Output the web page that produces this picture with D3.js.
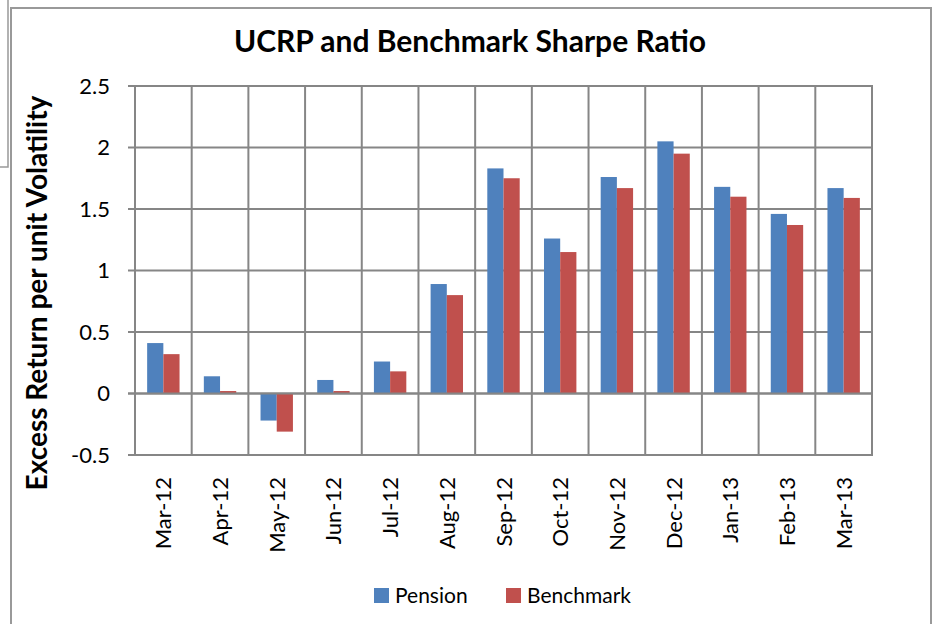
<!DOCTYPE html>
<html>
<head>
<meta charset="utf-8">
<script src="https://cdn.jsdelivr.net/npm/d3@7"></script>
<style>
  body { margin: 0; background: #fff; }
  svg { display: block; }
  text { font-family: Lato, "Open Sans", sans-serif; fill: #000; }
</style>
</head>
<body>
<svg id="chart" width="934" height="624"></svg>
<script>
var months = ["Mar-12", "Apr-12", "May-12", "Jun-12", "Jul-12", "Aug-12", "Sep-12",
	"Oct-12", "Nov-12", "Dec-12", "Jan-13", "Feb-13", "Mar-13"];
var pension = [0.41, 0.14, -0.22, 0.11, 0.26, 0.89, 1.83, 1.26, 1.76, 2.05, 1.68, 1.46, 1.67];
var benchmark = [0.32, 0.02, -0.31, 0.02, 0.18, 0.80, 1.75, 1.15, 1.67, 1.95, 1.60, 1.37, 1.59];
var yTicks = [-0.5, 0, 0.5, 1, 1.5, 2, 2.5];
var seriesNames = ["Pension", "Benchmark"];
var colors = ["#4F81BD", "#C0504D"];

var svg = d3.select('#chart');
var pLeft = 135, pRight = 872, pTop = 86, pBottom = 455;
var grid = "#868686";

// bits of the frame behind
svg.append('path').attr('d', 'M8,0V167H0').attr('fill', 'none').attr('stroke', '#999').attr('stroke-width', 1.5);
svg.append('rect').attr('x', 11).attr('y', 8).attr('width', 920).attr('height', 640)
	.attr('fill', '#fff').attr('stroke', '#999').attr('stroke-width', 2);

var x = d3.scaleBand().domain(months).range([pLeft, pRight]);
var x1 = d3.scaleBand().domain(seriesNames).range([0, x.bandwidth()]).paddingOuter(0.75);
var y = d3.scaleLinear().domain([-0.5, 2.5]).range([pBottom, pTop]);

// horizontal grid + y ticks
svg.append('g').selectAll('line').data(yTicks).enter().append('line')
	.attr('x1', pLeft - 7).attr('x2', pRight)
	.attr('y1', function (d) { return y(d); }).attr('y2', function (d) { return y(d); })
	.attr('stroke', grid).attr('stroke-width', 2);

// vertical grid
var bounds = months.map(function (m) { return x(m); }).concat([pRight]);
svg.append('g').selectAll('line').data(bounds).enter().append('line')
	.attr('x1', function (d) { return d; }).attr('x2', function (d) { return d; })
	.attr('y1', pTop - 1).attr('y2', pBottom + 1)
	.attr('stroke', grid).attr('stroke-width', 2);

// bars
var data = [pension, benchmark];
data.forEach(function (vals, s) {
	svg.append('g').selectAll('rect').data(vals).enter().append('rect')
		.attr('x', function (d, i) { return x(months[i]) + x1(seriesNames[s]); })
		.attr('width', x1.bandwidth())
		.attr('y', function (d) { return y(Math.max(0, d)); })
		.attr('height', function (d) { return Math.abs(y(d) - y(0)); })
		.attr('fill', colors[s]);
});

// zero line on top
svg.append('line').attr('x1', pLeft - 7).attr('x2', pRight).attr('y1', y(0)).attr('y2', y(0))
	.attr('stroke', grid).attr('stroke-width', 2);

// y labels
svg.append('g').selectAll('text').data(yTicks).enter().append('text')
	.attr('x', 110).attr('y', function (d) { return y(d); }).attr('dy', '0.35em')
	.attr('text-anchor', 'end').style('font-size', '22px')
	.text(function (d) { return d; });

// x labels
svg.append('g').selectAll('text').data(months).enter().append('text')
	.attr('transform', function (d) { return 'translate(' + (x(d) + x.bandwidth() / 2 + 8) + ',477) rotate(-90)'; })
	.attr('text-anchor', 'end').style('font-size', '22px')
	.text(function (d) { return d; });

// titles
svg.append('text').attr('x', 470).attr('y', 52).attr('text-anchor', 'middle')
	.style('font-size', '30px').style('font-weight', 'bold')
	.text('UCRP and Benchmark Sharpe Ratio');
svg.append('text').attr('transform', 'translate(47,293) rotate(-90)').attr('text-anchor', 'middle')
	.style('font-size', '28px').style('font-weight', 'bold')
	.text('Excess Return per unit Volatility');

// legend
var lx = [374, 506];
seriesNames.forEach(function (n, i) {
	svg.append('rect').attr('x', lx[i]).attr('y', 588).attr('width', 15).attr('height', 15).attr('fill', colors[i]);
	svg.append('text').attr('x', lx[i] + 21).attr('y', 603).style('font-size', '21px').text(n);
});
</script>
</body>
</html>
